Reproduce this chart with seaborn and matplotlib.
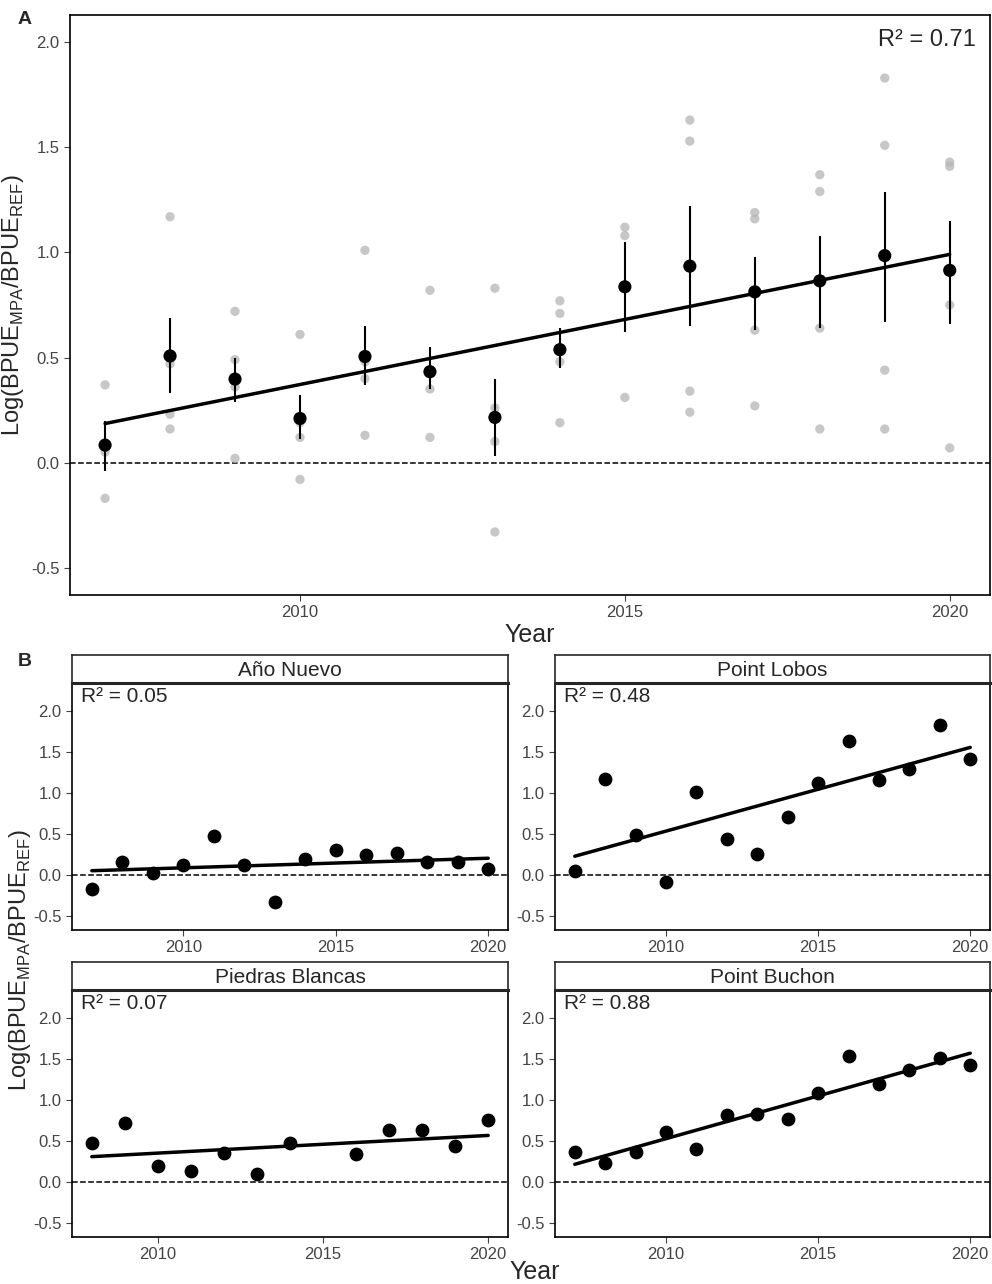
import numpy as np
import pandas as pd
import seaborn as sns
import matplotlib.pyplot as plt

years = list(range(2007, 2021))
sites = ["Año Nuevo", "Point Lobos", "Piedras Blancas", "Point Buchon"]
ano_nuevo = [-0.17, 0.16, 0.02, 0.12, 0.48, 0.12, -0.33, 0.19, 0.31, 0.24, 0.27, 0.16, 0.16, 0.07]
point_lobos = [0.05, 1.17, 0.49, -0.08, 1.01, 0.44, 0.26, 0.71, 1.12, 1.63, 1.16, 1.29, 1.83, 1.41]
piedras_blancas = [None, 0.47, 0.72, 0.19, 0.13, 0.35, 0.10, 0.48, None, 0.34, 0.63, 0.64, 0.44, 0.75]
point_buchon = [0.37, 0.23, 0.36, 0.61, 0.40, 0.82, 0.83, 0.77, 1.08, 1.53, 1.19, 1.37, 1.51, 1.43]
err_lo = [-0.04, 0.33, 0.29, 0.11, 0.37, 0.35, 0.03, 0.45, 0.62, 0.65, 0.63, 0.64, 0.67, 0.66]
err_hi = [0.20, 0.69, 0.50, 0.32, 0.65, 0.55, 0.40, 0.64, 1.05, 1.22, 0.98, 1.08, 1.29, 1.15]
r2_all = "0.71"
r2_sites = ["0.05", "0.48", "0.07", "0.88"]

df = pd.DataFrame({"Year": years, sites[0]: ano_nuevo, sites[1]: point_lobos,
                   sites[2]: piedras_blancas, sites[3]: point_buchon})
long = df.melt(id_vars="Year", var_name="site", value_name="val").dropna()
means = long.groupby("Year")["val"].mean().reset_index()

sns.set_style("white")
plt.rcParams["font.family"] = ["Liberation Sans", "DejaVu Sans"]
fig = plt.figure(figsize=(9.92, 12.84), dpi=100)
W, H = 992, 1284
ylab = "Log(BPUE$_{\\mathregular{MPA}}$/BPUE$_{\\mathregular{REF}}$)"


def box(x0, y0, x1, y1):
    return fig.add_axes([x0 / W, 1 - y1 / H, (x1 - x0) / W, (y1 - y0) / H])


def style(ax, ylim):
    for s in ax.spines.values():
        s.set_visible(True)
        s.set_color("black")
        s.set_linewidth(1.2)
    ax.tick_params(axis="both", labelsize=12, colors="#444444", length=4, left=True, bottom=True)
    ax.set_ylim(*ylim)
    ax.set_yticks([-0.5, 0, 0.5, 1.0, 1.5, 2.0])
    ax.set_yticklabels(["-0.5", "0.0", "0.5", "1.0", "1.5", "2.0"])
    ax.set_xticks([2010, 2015, 2020])
    ax.axhline(0, ls="--", color="black", lw=1.1, zorder=0)
    ax.set_xlabel("")
    ax.set_ylabel("")


# Panel A
ax = box(70, 15, 990, 595)
sns.scatterplot(data=long, x="Year", y="val", color="#b5b5b5", alpha=0.75, s=45, edgecolor="none", ax=ax)
ax.vlines(means["Year"], err_lo, err_hi, color="black", lw=1.5)
sns.regplot(data=means, x="Year", y="val", ci=None, scatter=False, truncate=True,
            line_kws={"color": "black", "lw": 2.5}, ax=ax)
sns.scatterplot(data=means, x="Year", y="val", color="black", s=90, edgecolor="none", ax=ax, zorder=5)
style(ax, (-0.63, 2.13))
ax.set_xlim(2006.46, 2020.62)
ax.set_xlabel("Year", fontsize=18, labelpad=2)
ax.set_ylabel(ylab, fontsize=17)
ax.yaxis.set_label_coords(-44 / 920, 0.5)
ax.text(0.985, 0.975, f"R² = {r2_all}", transform=ax.transAxes, ha="right", va="top", fontsize=17)
fig.text(18 / W, 1 - 20 / H, "A", fontsize=14, fontweight="bold", va="center")
fig.text(18 / W, 1 - 662 / H, "B", fontsize=14, fontweight="bold", va="center")

# Panel B
pos = [(72, 683, 508, 930), (555, 683, 990, 930), (72, 990, 508, 1237), (555, 990, 990, 1237)]
for site, r2, (x0, y0, x1, y1) in zip(sites, r2_sites, pos):
    sub = long[long["site"] == site]
    ax = box(x0, y0, x1, y1)
    sns.regplot(data=sub, x="Year", y="val", ci=None, truncate=True,
                scatter_kws={"color": "black", "s": 80, "alpha": 1},
                line_kws={"color": "black", "lw": 2.5}, ax=ax)
    style(ax, (-0.67, 2.34))
    lo, hi = sub["Year"].min(), sub["Year"].max()
    pad = (hi - lo) * 0.05
    ax.set_xlim(lo - pad, hi + pad)
    ax.text(0.02, 0.985, f"R² = {r2}", transform=ax.transAxes, ha="left", va="top", fontsize=15)
    st = box(x0, y0 - 28, x1, y0)
    st.set_xticks([])
    st.set_yticks([])
    for s in st.spines.values():
        s.set_linewidth(1.2)
    st.spines["bottom"].set_linewidth(2.2)
    st.text(0.5, 0.45, site, ha="center", va="center", fontsize=15)

fig.text(535 / W, 1 - 1272 / H, "Year", fontsize=18, ha="center", va="center")
fig.text(20 / W, 1 - 960 / H, ylab, fontsize=17, rotation=90, ha="center", va="center")
fig.savefig("out.png", dpi=100)
